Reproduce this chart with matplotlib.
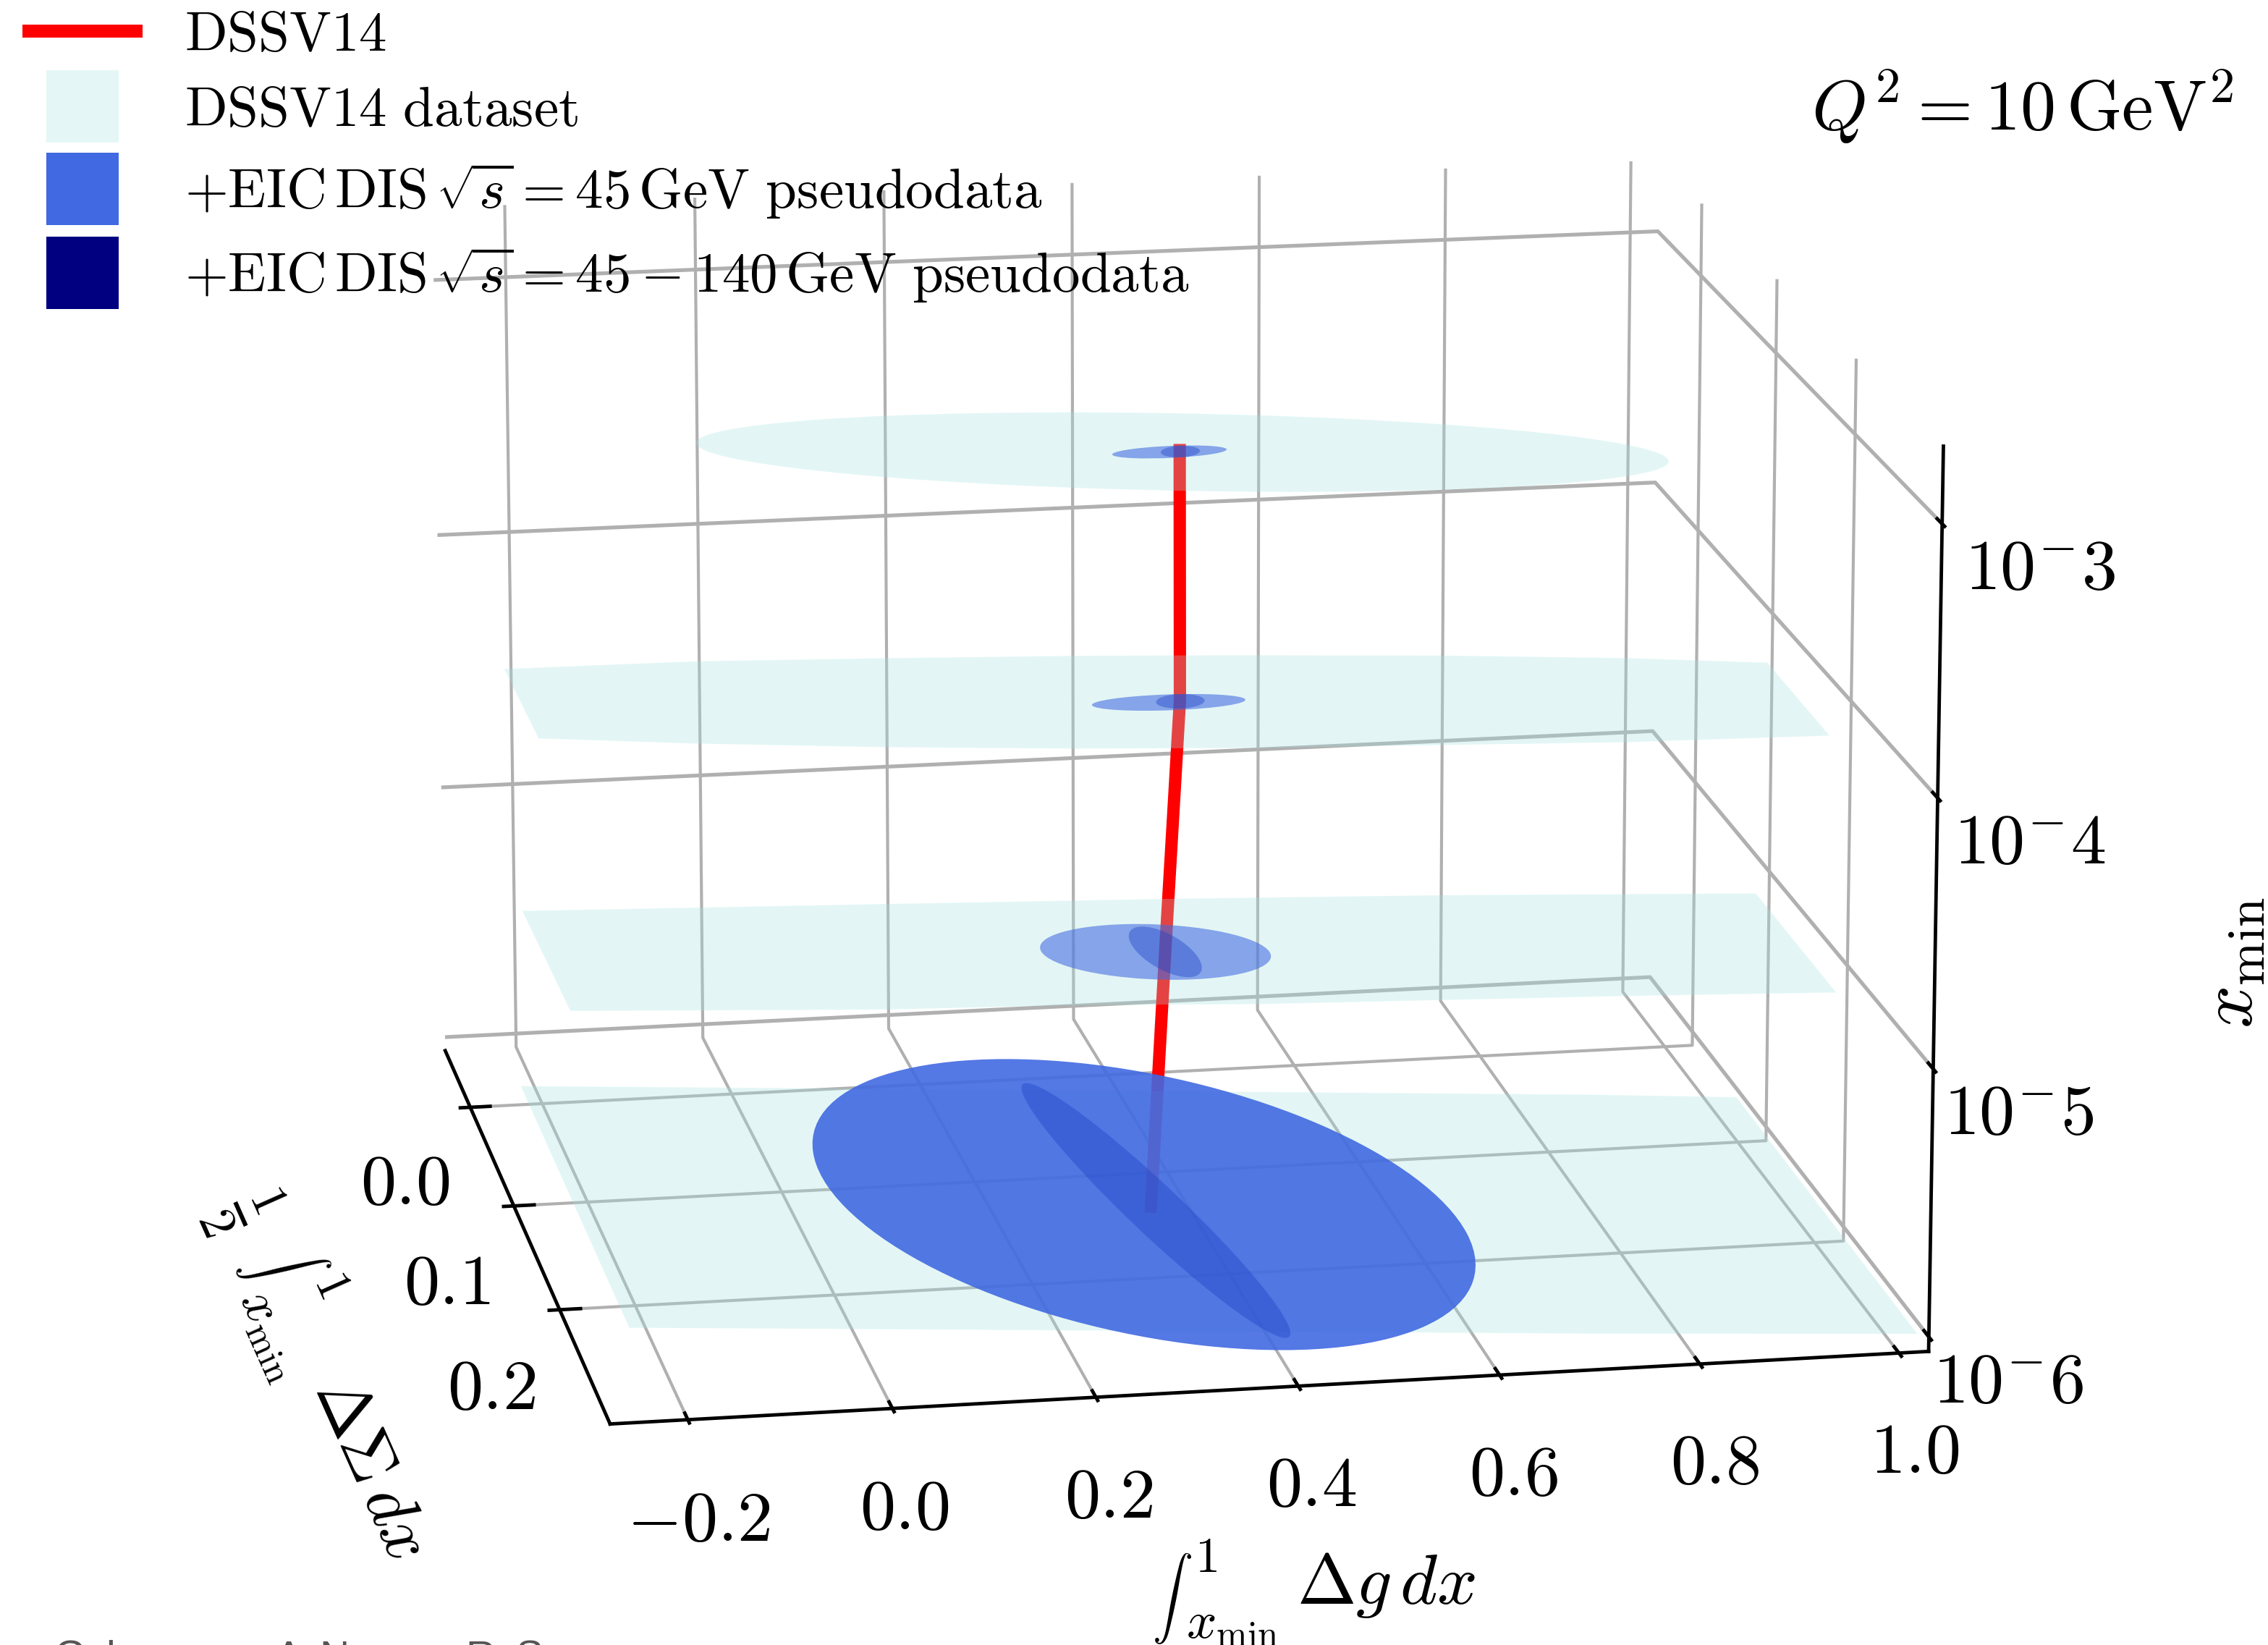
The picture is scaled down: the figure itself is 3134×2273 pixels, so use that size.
import numpy as np
import matplotlib
matplotlib.use('Agg')
import matplotlib.pyplot as plt
from matplotlib.lines import Line2D
from matplotlib.patches import Ellipse
from mpl_toolkits.mplot3d import art3d
from mpl_toolkits.mplot3d.art3d import Poly3DCollection

plt.rcParams['mathtext.fontset'] = 'cm'
plt.rcParams['font.family'] = ['cmr10', 'DejaVu Serif']
plt.rcParams['axes.unicode_minus'] = False
plt.rcParams['axes.formatter.use_mathtext'] = True
plt.rcParams['grid.color'] = '#b0b0b0'

# camera
W, H = 3134, 2273
ELEV, AZIM, FOCAL = 15.16, -100.11, 1.2135
BOX = (1, 0.9901, 0.7007)
SCALE, CX, CY = 14710.6, 1601.0, 1054.05

x_lim = (-0.2757, 1.0299)
y_lim = (0.3043, -0.0598)
z_lim = (-6.0545, -2.7188)
x_ticks = [-0.2, 0.0, 0.2, 0.4, 0.6, 0.8, 1.0]
y_ticks = [0.0, 0.1, 0.2]
z_ticks = [-6, -5, -4, -3]
x_labels = ['$-0.2$', '$0.0$', '$0.2$', '$0.4$', '$0.6$', '$0.8$', '$1.0$']
y_labels = ['$0.0$', '$0.1$', '$0.2$']
z_labels = ['$10^{-}6$', '$10^{-}5$', '$10^{-}4$', '$10^{-}3$']
z_pads = [8.9, 10, 11.2, 12.4]

# central DSSV14 curve
curve_z = [-6.0, -5.0, -4.0, -3.0]
curve_x = [0.350, 0.365, 0.371, 0.363]
curve_y = [0.152, 0.152, 0.166, 0.178]

# DSSV14 uncertainty regions, cut at the edge of the box
pale_x_6 = [-0.220, -0.012, 0.876, 1.023, 1.021, 0.706, -0.131, -0.222]
pale_y_6 = [-0.005, 0.007, 0.059, 0.069, 0.301, 0.285, 0.238, 0.233]
pale_x_5 = [-0.253, 0.113, 0.404, 0.681, 0.998, 0.997, 0.785, 0.422, 0.245, 0.053, -0.253]
pale_y_5 = [0.078, 0.089, 0.098, 0.108, 0.122, 0.226, 0.219, 0.209, 0.201, 0.196, 0.182]
pale_x_4 = [-0.277, -0.084, 0.106, 0.300, 0.453, 0.664, 0.845, 0.981, 0.979, 0.777, 0.595, 0.414, 0.239, 0.052, -0.129, -0.278]
pale_y_4 = [0.098, 0.099, 0.105, 0.112, 0.119, 0.130, 0.142, 0.154, 0.235, 0.232, 0.226, 0.220, 0.212, 0.201, 0.188, 0.175]
pale_3 = (-3, 0.3587, 0.1869, 0.9351, 0.0926, -176.1)

# z, centre x, centre y, width, height, angle
eic45 = [(-6, 0.3465, 0.1385, 0.6173, 0.2804, -170.8),
         (-5, 0.3552, 0.1516, 0.2264, 0.0582, -176.9),
         (-4, 0.3588, 0.1673, 0.1545, 0.0172, -179.7),
         (-3, 0.3472, 0.1867, 0.1151, 0.0137, 179.4)]
eic140 = [(-6, 0.3550, 0.1460, 0.2784, 0.0651, 66.1),
          (-5, 0.3649, 0.1521, 0.0632, 0.0472, -142.6),
          (-4, 0.3710, 0.1667, 0.0497, 0.0153, 177.1),
          (-3, 0.3580, 0.1868, 0.0400, 0.0129, 175.9)]
eic45_alpha = [0.9, 0.58, 0.58, 0.58]

PALE = (165/255, 228/255, 225/255)
DARK = (29/255, 66/255, 197/255)
legend_labels = [r'$\mathrm{DSSV14}$',
                 r'$\mathrm{DSSV14\ dataset}$',
                 r'$+\mathrm{EIC\,DIS}\,\sqrt{s}=45\,\mathrm{GeV}\ \mathrm{pseudodata}$',
                 r'$+\mathrm{EIC\,DIS}\,\sqrt{s}=45-140\,\mathrm{GeV}\ \mathrm{pseudodata}$']

fig = plt.figure(figsize=(W/300, H/300), dpi=300)
ax = fig.add_subplot(projection='3d', computed_zorder=False)
ax.set_xlim(*x_lim)
ax.set_ylim(*y_lim)
ax.set_zlim(*z_lim)
ax.set_proj_type('persp', focal_length=FOCAL)
ax.view_init(elev=ELEV, azim=AZIM)
ax.set_box_aspect(BOX, zoom=1)

# size and place the axes so that the projection lands where it does in the picture
ax.set_position([0, 0, 1, 1])
ax.apply_aspect()
p0, p1 = ax.transData.transform([[0, 0], [1, 0]])
side = H * SCALE / (p1[0] - p0[0])
fx = (p0[0] - (W - H) / 2) / H
fy = p0[1] / H
left = CX - fx * side
bottom = (H - CY) - fy * side
ax.set_position([left / W, bottom / H, side / W, side / H])

ax.set_xticks(x_ticks, x_labels)
ax.set_yticks(y_ticks, y_labels)
ax.set_zticks(z_ticks, z_labels)
ax.tick_params(axis='both', labelsize=23.5)
ax.tick_params(axis='x', pad=10.5)
ax.tick_params(axis='y', pad=10)
for tick, pad in zip(ax.zaxis.get_major_ticks(), z_pads):
    tick.set_pad(pad)

for axis, grid_lw in ((ax.xaxis, 1.0), (ax.yaxis, 1.0), (ax.zaxis, 1.25)):
    axis.set_pane_color((1, 1, 1, 0))
    axis.pane.set_edgecolor('none')
    axis.line.set_linewidth(1.15)
    axis.line.set_color('black')
    axis._axinfo['grid'].update(color='#b0b0b0', linewidth=grid_lw)
    axis._axinfo['tick'].update(inward_factor=0.1, outward_factor=0.2)
    axis._axinfo['tick']['linewidth'] = {True: 1.15, False: 0.5}
ax.zaxis.set_ticks_position('upper')
# z ticks point along the y direction here
ax.zaxis._get_tickdir = lambda position: 1

ax.plot(curve_x, curve_y, curve_z, color='red', lw=4.1, solid_capstyle='butt', zorder=1)

for z, xs, ys in ((-6, pale_x_6, pale_y_6), (-5, pale_x_5, pale_y_5), (-4, pale_x_4, pale_y_4)):
    poly = Poly3DCollection([list(zip(xs, ys, [z] * len(xs)))], facecolors=[PALE + (0.3,)],
                            edgecolors='none', zorder=2)
    ax.add_collection3d(poly)

z, cx, cy, w, h, a = pale_3
e = Ellipse((cx, cy), w, h, angle=a, facecolor=PALE, alpha=0.3, edgecolor='none', zorder=2)
ax.add_patch(e)
art3d.pathpatch_2d_to_3d(e, z=z)

for (z, cx, cy, w, h, a), al in zip(eic45, eic45_alpha):
    e = Ellipse((cx, cy), w, h, angle=a, facecolor='royalblue', alpha=al, edgecolor='none', zorder=3)
    ax.add_patch(e)
    art3d.pathpatch_2d_to_3d(e, z=z)
for z, cx, cy, w, h, a in eic140:
    e = Ellipse((cx, cy), w, h, angle=a, facecolor=DARK, alpha=0.4, edgecolor='none', zorder=4)
    ax.add_patch(e)
    art3d.pathpatch_2d_to_3d(e, z=z)

handles = [Line2D([], [], color='red', lw=4.3, solid_capstyle='butt'),
           Line2D([], [], ls='none', marker='s', ms=24, mfc='#e4f7f6', mec='none'),
           Line2D([], [], ls='none', marker='s', ms=24, mfc='royalblue', mec='none'),
           Line2D([], [], ls='none', marker='s', ms=24, mfc='navy', mec='none')]
fig.legend(handles, legend_labels, loc='upper left', bbox_to_anchor=(0.010, 0.993), frameon=False,
           fontsize=18.5, handlelength=2.15, handletextpad=0.75, labelspacing=0.45, borderpad=0, borderaxespad=0)

fig.text(3086 / W, 1 - 148 / H, r'$Q^2=10\,\mathrm{GeV}^2$', fontsize=23.5, ha='right', va='center')

# axis labels, built from pieces because the text-size integral is smaller than mathtext's
x_label_parts = [(r'$\int$', 1620, 2209, 13.5, 0), (r'$1$', 1666, 2154, 16.5, 0), (r'$x_{\min}$', 1703, 2246, 17.5, 0),
                 (r'$\Delta g\,dx$', 1916, 2190, 23.5, 0)]
y_label_parts = [(r'$\frac{1}{2}$', 336, 1674, 24, -66), (r'$\int$', 390, 1751, 13.5, -66), (r'$1$', 456, 1775, 16.5, -66),
                 (r'$x_{\min}$', 374, 1845, 17.5, -66), (r'$\Delta\Sigma\,dx$', 510, 2030, 23, -66)]
for s, px, py, size, rot in x_label_parts + y_label_parts:
    fig.text(px / W, 1 - py / H, s, fontsize=size, ha='center', va='center', rotation=rot, rotation_mode='anchor')
fig.text(3086 / W, 1 - 1330 / H, r'$x_{\min}$', fontsize=25, ha='center', va='center', rotation=90)

# names cut off by the lower edge of the page
for letter, px in zip(['G', 'l', 'A', 'N', 'R', 'S'], [74, 146, 380, 441, 643, 712]):
    fig.text(px / W, 1 - 2266 / H, letter, fontsize=13.7, color='#555555', family='Liberation Sans', va='top')

fig.savefig('out.png')
